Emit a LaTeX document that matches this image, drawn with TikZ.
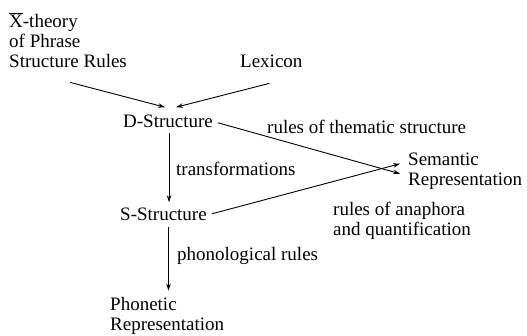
\documentclass[tikz,border=0pt]{standalone}
\usepackage{fontspec}
\setmainfont{Liberation Serif}
\usetikzlibrary{arrows.meta,calc}
\begin{document}
\begin{tikzpicture}[x=1pt,y=-1pt,
  lbl/.style={anchor=base west,inner sep=0pt,align=left,font=\fontsize{19}{20}\selectfont},
  arr/.style={-{Stealth[length=7pt,width=4.5pt]},line width=0.9pt}]
\useasboundingbox (0,0) rectangle (527,335);
\node[lbl] (xbar) at (9,67) {$\overline{\hbox{X}}$-theory\\of Phrase\\Structure Rules};
\node[lbl] (lex) at (240,67) {Lexicon};
\node[lbl] (ds) at (123,127) {D-Structure};
\node[lbl] (sem) at (408,185) {Semantic\\Representation};
\node[lbl] (ss) at (120,220) {S-Structure};
\node[lbl] (ph) at (110,330) {Phonetic\\Representation};
\node[lbl] (them) at (267,133) {rules of thematic structure};
\node[lbl] (trans) at (176,175) {transformations};
\node[lbl] (ana) at (333,235) {rules of anaphora\\and quantification};
\node[lbl] (phon) at (177,260) {phonological rules};
\draw[arr] ([xshift=2pt,yshift=-15pt]xbar.south) -- ([xshift=-3pt,yshift=7pt]ds.north);
\draw[arr] ([xshift=-2pt,yshift=-16pt]lex.south) -- ([xshift=8pt,yshift=7pt]ds.north);
\draw[arr] ([xshift=5pt,yshift=-2pt]ds.east) -- ([xshift=-8pt,yshift=-3pt]sem.west);
\draw[arr] ([xshift=5pt]ss.east) -- ([xshift=-8pt,yshift=7pt]sem.west);
\draw[arr] ([xshift=1pt,yshift=-6pt]ds.south) -- ([xshift=1pt,yshift=5pt]ds.south |- ss.north);
\draw[arr] ([xshift=5pt,yshift=-7pt]ss.south) -- ([xshift=5pt,yshift=6pt]ss.south |- ph.north);
\end{tikzpicture}
\end{document}
